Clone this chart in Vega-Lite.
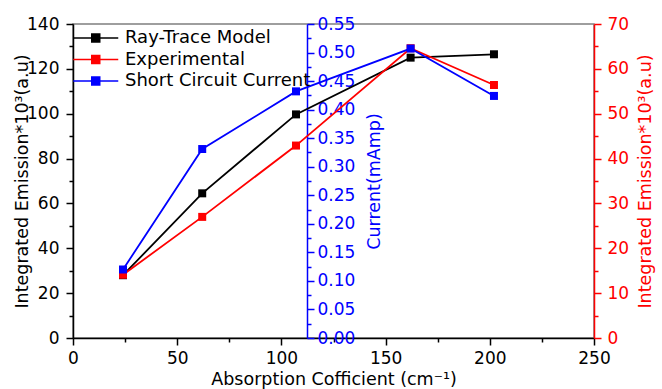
{
  "$schema": "https://vega.github.io/schema/vega-lite/v6.json",
  "width": 521,
  "height": 314,
  "autosize": {"type": "none"},
  "padding": {"left": 73, "top": 24, "right": 68, "bottom": 51},
  "config": {
    "font": "DejaVu Sans",
    "view": {"stroke": "#7f7f7f", "strokeWidth": 1.5},
    "axis": {
      "grid": false,
      "labelFont": "DejaVu Sans",
      "labelFontSize": 17,
      "titleFont": "DejaVu Sans",
      "titleFontSize": 17.5,
      "titleFontWeight": "normal",
      "domainWidth": 1.5,
      "tickWidth": 1.5,
      "labelOverlap": false,
      "labelFlush": false,
      "labelBound": false
    }
  },
  "data": {
    "values": [
      {"series": "Ray-Trace Model", "x": 24, "v": 28},
      {"series": "Ray-Trace Model", "x": 62, "v": 64.5},
      {"series": "Ray-Trace Model", "x": 107, "v": 99.7},
      {"series": "Ray-Trace Model", "x": 162, "v": 125},
      {"series": "Ray-Trace Model", "x": 202, "v": 126.5},
      {"series": "Experimental", "x": 24, "v": 14.1},
      {"series": "Experimental", "x": 62, "v": 27},
      {"series": "Experimental", "x": 107, "v": 42.9},
      {"series": "Experimental", "x": 162, "v": 64.6},
      {"series": "Experimental", "x": 202, "v": 56.4},
      {"series": "Short Circuit Current", "x": 24, "v": 0.12},
      {"series": "Short Circuit Current", "x": 62, "v": 0.331},
      {"series": "Short Circuit Current", "x": 107, "v": 0.432},
      {"series": "Short Circuit Current", "x": 162, "v": 0.507},
      {"series": "Short Circuit Current", "x": 202, "v": 0.424}
    ]
  },
  "encoding": {
    "x": {
      "field": "x",
      "type": "quantitative",
      "scale": {"domain": [0, 250], "nice": false, "zero": false},
      "axis": {
        "title": "Absorption Cofficient (cm⁻¹)",
        "values": [0, 25, 50, 75, 100, 125, 150, 175, 200, 225, 250],
        "labelExpr": "datum.value % 50 == 0 ? datum.label : ''",
        "tickSize": {"condition": {"test": "datum.value % 50 == 0", "value": 7}, "value": 4},
        "domainColor": "#000000",
        "tickColor": "#000000",
        "labelColor": "#000000",
        "titleColor": "#000000",
        "labelPadding": 5,
        "titlePadding": 4
      }
    }
  },
  "layer": [
    {
      "transform": [{"filter": "datum.series === 'Ray-Trace Model'"}],
      "encoding": {
        "y": {
          "field": "v",
          "type": "quantitative",
          "scale": {"domain": [0, 140], "nice": false, "zero": false},
          "axis": {
            "orient": "left",
            "title": "Integrated Emission*10³(a.u)",
            "values": [0, 10, 20, 30, 40, 50, 60, 70, 80, 90, 100, 110, 120, 130, 140],
            "labelExpr": "datum.value % 20 == 0 ? datum.label : ''",
            "tickSize": {"condition": {"test": "datum.value % 20 == 0", "value": 7}, "value": 4},
            "domainColor": "#000000",
            "tickColor": "#000000",
            "labelColor": "#000000",
            "titleColor": "#000000",
            "labelPadding": 7,
            "titlePadding": -5
          }
        },
        "color": {
          "field": "series",
          "type": "nominal",
          "scale": {"domain": ["Ray-Trace Model", "Experimental", "Short Circuit Current"], "range": ["#000000", "#ff0000", "#0000ff"]},
          "legend": {
            "orient": "none",
            "legendX": 13.75,
            "legendY": 5,
            "title": null,
            "padding": 0,
            "symbolType": "M-5.625,0H5.625M-1,-1H1V1H-1Z",
            "symbolSize": 64,
            "symbolStrokeWidth": 1.5,
            "labelFont": "DejaVu Sans",
            "labelFontSize": 18,
            "labelColor": "#000000",
            "labelLimit": 400,
            "labelOffset": 20.25,
            "rowPadding": 3.5,
            "encode": {"symbols": {"update": {"fill": {"scale": "color", "field": "value"}, "stroke": {"scale": "color", "field": "value"}, "strokeWidth": {"value": 1.5}, "opacity": {"value": 1}}}}
          }
        }
      },
      "layer": [
        {"mark": {"type": "line", "strokeWidth": 1.8}},
        {"mark": {"type": "point", "shape": "square", "filled": true, "size": 64, "opacity": 1}}
      ]
    },
    {
      "transform": [{"filter": "datum.series === 'Experimental'"}],
      "encoding": {
        "y": {
          "field": "v",
          "type": "quantitative",
          "scale": {"domain": [0, 70], "nice": false, "zero": false},
          "axis": {
            "orient": "right",
            "title": "Integrated Emission*10³(a.u)",
            "values": [0, 5, 10, 15, 20, 25, 30, 35, 40, 45, 50, 55, 60, 65, 70],
            "labelExpr": "datum.value % 10 == 0 ? datum.label : ''",
            "tickSize": {"condition": {"test": "datum.value % 10 == 0", "value": 7}, "value": 4},
            "domainColor": "#ff0000",
            "tickColor": "#ff0000",
            "labelColor": "#ff0000",
            "titleColor": "#ff0000",
            "labelPadding": 6,
            "titleAngle": 270,
            "titleBaseline": "top",
            "titlePadding": 8
          }
        },
        "color": {
          "field": "series",
          "type": "nominal",
          "scale": {"domain": ["Ray-Trace Model", "Experimental", "Short Circuit Current"], "range": ["#000000", "#ff0000", "#0000ff"]}
        }
      },
      "layer": [
        {"mark": {"type": "line", "strokeWidth": 1.8}},
        {"mark": {"type": "point", "shape": "square", "filled": true, "size": 64, "opacity": 1}}
      ]
    },
    {
      "transform": [{"filter": "datum.series === 'Short Circuit Current'"}],
      "encoding": {
        "y": {
          "field": "v",
          "type": "quantitative",
          "scale": {"domain": [0, 0.55], "nice": false, "zero": false},
          "axis": {
            "orient": "right",
            "offset": -287,
            "title": "Current(mAmp)",
            "values": [0, 0.025, 0.05, 0.075, 0.1, 0.125, 0.15, 0.175, 0.2, 0.225, 0.25, 0.275, 0.3, 0.325, 0.35, 0.375, 0.4, 0.425, 0.45, 0.475, 0.5, 0.525, 0.55],
            "labelExpr": "round(datum.value * 40) % 2 == 0 ? format(datum.value, '.2f') : ''",
            "tickSize": {"condition": {"test": "round(datum.value * 40) % 2 == 0", "value": 7}, "value": 4},
            "domainColor": "#0000ff",
            "tickColor": "#0000ff",
            "labelColor": "#0000ff",
            "titleColor": "#0000ff",
            "labelPadding": 3,
            "titleAngle": 270,
            "titleBaseline": "top",
            "titlePadding": 11
          }
        },
        "color": {
          "field": "series",
          "type": "nominal",
          "scale": {"domain": ["Ray-Trace Model", "Experimental", "Short Circuit Current"], "range": ["#000000", "#ff0000", "#0000ff"]}
        }
      },
      "layer": [
        {"mark": {"type": "line", "strokeWidth": 1.8}},
        {"mark": {"type": "point", "shape": "square", "filled": true, "size": 64, "opacity": 1}}
      ]
    }
  ],
  "resolve": {"scale": {"y": "independent"}}
}
